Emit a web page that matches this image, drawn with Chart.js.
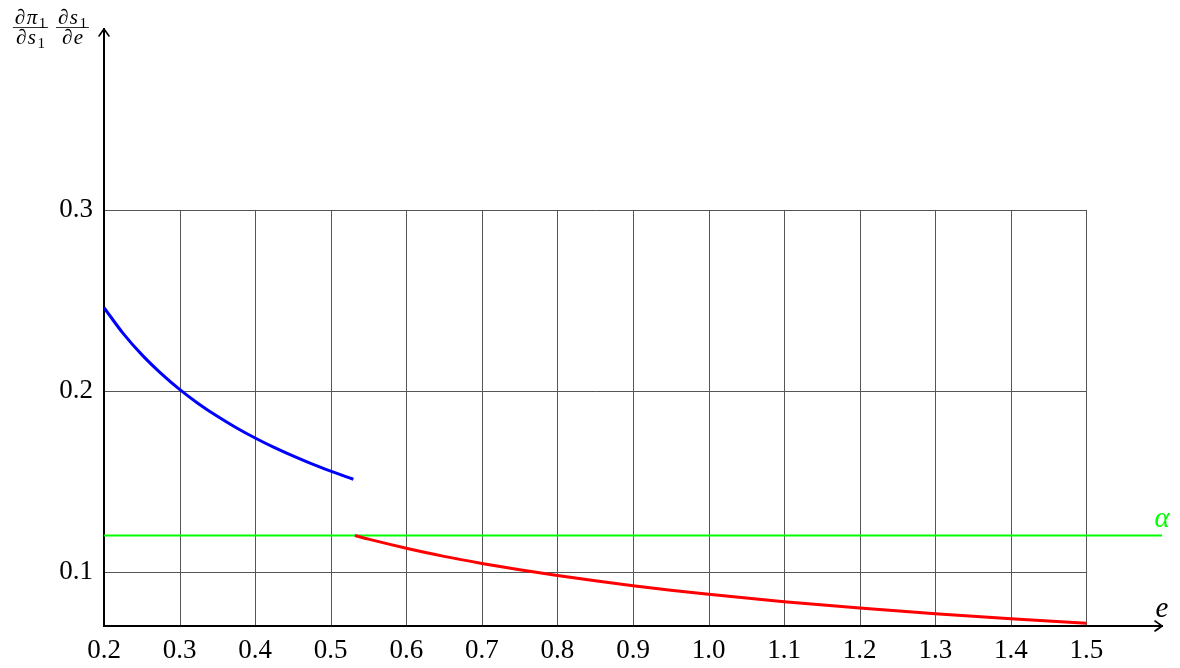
<!DOCTYPE html>
<html><head><meta charset="utf-8">
<script src="https://cdn.jsdelivr.net/npm/chart.js@4.4.1/dist/chart.umd.min.js"></script>
<style>html,body{margin:0;padding:0;background:#fff}#wrap{width:1180px;height:668px;position:relative}</style>
</head><body><div id="wrap"><canvas id="c"></canvas></div>
<script>
// ---- data ----
const blueE = [0.2, 0.225, 0.25, 0.275, 0.3, 0.325, 0.35, 0.375, 0.4, 0.425, 0.45, 0.475, 0.5, 0.53];
const blueV = [0.2460, 0.2319, 0.2200, 0.2098, 0.2008, 0.1929, 0.1859, 0.1796, 0.1739, 0.1687, 0.1640, 0.1596, 0.1556, 0.1511];
const redE = [0.532, 0.55, 0.6, 0.65, 0.7, 0.75, 0.8, 0.85, 0.9, 0.95, 1.0, 1.1, 1.2, 1.3, 1.4, 1.5];
const redV = [0.1200, 0.1180, 0.1130, 0.1085, 0.1046, 0.1011, 0.0979, 0.0950, 0.0923, 0.0898, 0.0875, 0.0834, 0.0799, 0.0768, 0.0740, 0.0715];
const alphaE = [0.2, 1.6];
const alphaV = [0.12, 0.12];
const xTicks = [0.2, 0.3, 0.4, 0.5, 0.6, 0.7, 0.8, 0.9, 1.0, 1.1, 1.2, 1.3, 1.4, 1.5];
const xTickLabels = ['0.2','0.3','0.4','0.5','0.6','0.7','0.8','0.9','1.0','1.1','1.2','1.3','1.4','1.5'];
const yTicks = [0.1, 0.2, 0.3];
const yTickLabels = ['0.1','0.2','0.3'];
const gridX = [0.3, 0.4, 0.5, 0.6, 0.7, 0.8, 0.9, 1.0, 1.1, 1.2, 1.3, 1.4, 1.5];
const gridY = [0.1, 0.2, 0.3];
const xRange = [0.2, 1.6];
const yRange = [0.07, 0.4];
const gridXMax = 1.5, gridYMax = 0.3;
const xLabel = 'e';
const alphaLabel = 'α';

const toPts = (xs, ys) => xs.map((v, i) => ({x: v, y: ys[i]}));
const SERIF = '"Liberation Serif", "DejaVu Serif", serif';

const gridPlugin = {
  id: 'pgfgrid',
  beforeDraw(chart) {
    const {ctx, scales: {x, y}} = chart;
    ctx.save();
    ctx.strokeStyle = '#555';
    ctx.lineWidth = 1;
    ctx.beginPath();
    gridX.forEach(v => {
      const px = Math.round(x.getPixelForValue(v)) + 0.5;
      ctx.moveTo(px, y.getPixelForValue(yRange[0]));
      ctx.lineTo(px, y.getPixelForValue(gridYMax));
    });
    gridY.forEach(v => {
      const py = Math.round(y.getPixelForValue(v)) + 0.5;
      ctx.moveTo(x.getPixelForValue(xRange[0]), py);
      ctx.lineTo(x.getPixelForValue(gridXMax), py);
    });
    ctx.stroke();
    ctx.restore();
  }
};

const GAP = 1.5;
function drawPieces(ctx, pieces, cx, base, size, measureOnly) {
  let w = 0;
  const m = pieces.map(p => {
    const fs = p.sub ? size * 0.72 : size;
    ctx.font = (p.it ? 'italic ' : '') + fs + 'px ' + SERIF;
    const pw = ctx.measureText(p.t).width + GAP;
    w += pw;
    return {p, fs, pw};
  });
  w -= GAP;
  if (measureOnly) return w;
  let xx = cx - w / 2;
  m.forEach(({p, fs, pw}) => {
    ctx.font = (p.it ? 'italic ' : '') + fs + 'px ' + SERIF;
    ctx.fillText(p.t, xx, base + (p.sub ? size * 0.2 : 0));
    xx += pw;
  });
  return w;
}

function drawFrac(ctx, num, den, cx, barY, size) {
  ctx.textAlign = 'left';
  ctx.textBaseline = 'alphabetic';
  const wn = drawPieces(ctx, num, cx, 0, size, true);
  const wd = drawPieces(ctx, den, cx, 0, size, true);
  const w = Math.max(wn, wd) + 3;
  drawPieces(ctx, num, cx, barY - 3.5, size);
  drawPieces(ctx, den, cx, barY + 16.5, size);
  ctx.beginPath();
  ctx.lineWidth = 0.8;
  ctx.moveTo(cx - w / 2, barY);
  ctx.lineTo(cx + w / 2, barY);
  ctx.stroke();
}

const decoPlugin = {
  id: 'deco',
  afterDraw(chart) {
    const {ctx, scales: {x, y}} = chart;
    ctx.save();
    ctx.strokeStyle = '#000';
    ctx.fillStyle = '#000';
    ctx.lineWidth = 1.6;
    ctx.lineCap = 'round';
    ctx.lineJoin = 'round';
    // x arrow
    const xr = x.getPixelForValue(xRange[1]), yb = y.getPixelForValue(yRange[0]);
    ctx.beginPath();
    ctx.moveTo(xr - 7, yb - 5); ctx.quadraticCurveTo(xr - 2, yb - 1.5, xr, yb);
    ctx.quadraticCurveTo(xr - 2, yb + 1.5, xr - 7, yb + 5);
    ctx.stroke();
    // y arrow
    const xl = x.getPixelForValue(xRange[0]), yt = y.getPixelForValue(yRange[1]);
    ctx.beginPath();
    ctx.moveTo(xl - 5, yt + 7); ctx.quadraticCurveTo(xl - 1.5, yt + 2, xl, yt);
    ctx.quadraticCurveTo(xl + 1.5, yt + 2, xl + 5, yt + 7);
    ctx.stroke();
    // x label
    ctx.font = 'italic 29px ' + SERIF;
    ctx.textAlign = 'center';
    ctx.textBaseline = 'alphabetic';
    ctx.fillText(xLabel, xr, yb - 9);
    // alpha label
    ctx.fillStyle = '#00ff00';
    ctx.fillText(alphaLabel, x.getPixelForValue(alphaE[1]), y.getPixelForValue(alphaV[1]) - 9);
    // y label: fractions
    ctx.fillStyle = '#000';
    ctx.strokeStyle = '#000';
    const S = 21;
    drawFrac(ctx,
      [{t:'∂'}, {t:'π', it:true}, {t:'1', sub:true}],
      [{t:'∂'}, {t:'s', it:true}, {t:'1', sub:true}], 30.5, 27.5, S);
    drawFrac(ctx,
      [{t:'∂'}, {t:'s', it:true}, {t:'1', sub:true}],
      [{t:'∂'}, {t:'e', it:true}], 72.5, 27.5, S);
    ctx.restore();
  }
};

new Chart(document.getElementById('c'), {
  type: 'line',
  data: {
    datasets: [
      {data: toPts(blueE, blueV), borderColor: '#0000ff', borderWidth: 3, pointRadius: 0, cubicInterpolationMode: 'monotone', borderJoinStyle: 'round', fill: false},
      {data: toPts(redE, redV), borderColor: '#ff0000', borderWidth: 3, pointRadius: 0, cubicInterpolationMode: 'monotone', borderJoinStyle: 'round', fill: false},
      {data: toPts(alphaE, alphaV), borderColor: '#00ff00', borderWidth: 2, pointRadius: 0, fill: false}
    ]
  },
  options: {
    responsive: true,
    maintainAspectRatio: false,
    animation: false,
    layout: {padding: {top: 29, right: 18, left: 0, bottom: 0}},
    plugins: {legend: {display: false}, tooltip: {enabled: false}},
    scales: {
      x: {
        type: 'linear', min: xRange[0], max: xRange[1],
        afterBuildTicks: s => { s.ticks = xTicks.map(v => ({value: v})); },
        afterFit: s => { s.height = 42; },
        grid: {display: false, drawTicks: false},
        border: {display: true, color: '#000', width: 2},
        ticks: {
          autoSkip: false, maxRotation: 0, padding: 9, color: '#000',
          font: {family: SERIF, size: 27},
          callback: (v, i) => xTickLabels[i]
        }
      },
      y: {
        type: 'linear', min: yRange[0], max: yRange[1],
        afterBuildTicks: s => { s.ticks = yTicks.map(v => ({value: v})); },
        afterFit: s => { s.width = 104; },
        grid: {display: false, drawTicks: false},
        border: {display: true, color: '#000', width: 2},
        ticks: {
          autoSkip: false, padding: 11, color: '#000',
          font: {family: SERIF, size: 27},
          callback: (v, i) => yTickLabels[i]
        }
      }
    }
  },
  plugins: [gridPlugin, decoPlugin]
});
</script></body></html>
